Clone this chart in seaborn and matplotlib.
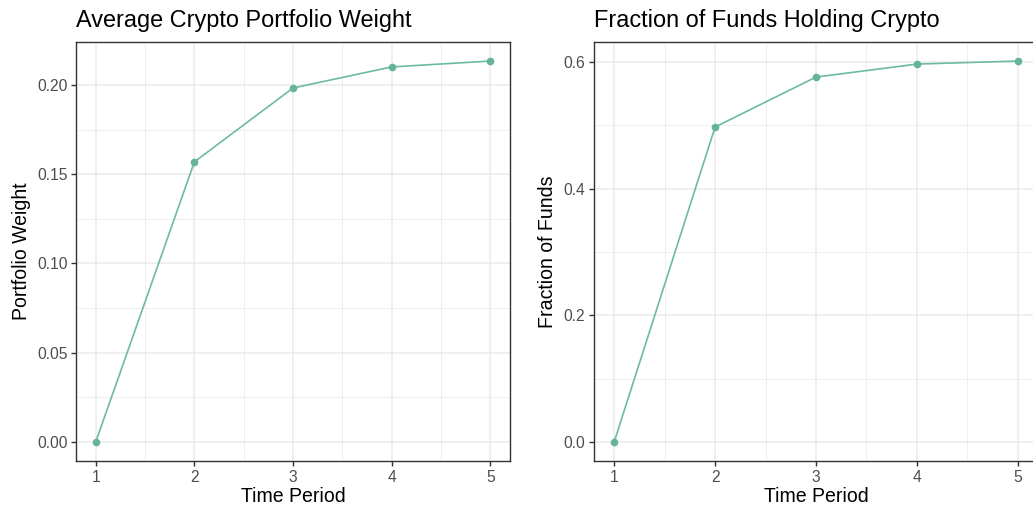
import matplotlib
matplotlib.use("Agg")
import matplotlib.pyplot as plt
import seaborn as sns
import pandas as pd
import numpy as np

# Data
periods = [1, 2, 3, 4, 5]
avg_weight = [0.0, 0.1569, 0.1983, 0.2101, 0.2134]
frac_holding = [0.0, 0.4974, 0.5763, 0.5968, 0.6016]

weight_ticks = [0.00, 0.05, 0.10, 0.15, 0.20]
weight_labels = ["0.00", "0.05", "0.10", "0.15", "0.20"]
frac_ticks = [0.0, 0.2, 0.4, 0.6]
frac_labels = ["0.0", "0.2", "0.4", "0.6"]

sns.set_theme(style="white")
plt.rcParams["font.family"] = ["Liberation Sans", "DejaVu Sans"]

W, H = 1033, 513
fig = plt.figure(figsize=(W / 100, H / 100), dpi=100)

LINE_COLOR = "#6cbaa2"
GRID = "#ebebeb"
DARK = "#333333"
S = 1.28  # text scale


def px_axes(x0, y0, x1, y1):
    return fig.add_axes([x0 / W, 1 - y1 / H, (x1 - x0) / W, (y1 - y0) / H])


def style_panel(ax, title, ylabel, yticks, ylabels, minor_y):
    ax.set_xticks(periods)
    ax.set_xticklabels([str(p) for p in periods])
    ax.set_xticks([1.5, 2.5, 3.5, 4.5], minor=True)
    ax.set_yticks(yticks)
    ax.set_yticklabels(ylabels)
    ax.set_yticks(minor_y, minor=True)
    ax.grid(True, which="major", color=GRID, linewidth=1.1)
    ax.grid(True, which="minor", color=GRID, linewidth=0.55)
    ax.set_axisbelow(True)
    for sp in ax.spines.values():
        sp.set_color(DARK)
        sp.set_linewidth(1.0)
    ax.tick_params(axis="both", which="major", length=3.6, width=1.0, color=DARK,
                   labelsize=8.8 * S, labelcolor="#4d4d4d", pad=2.6, bottom=True, left=True)
    ax.tick_params(axis="both", which="minor", length=0)
    ax.set_xlabel("Time Period", fontsize=11 * S, color="black", labelpad=1.5)
    ax.set_ylabel(ylabel, fontsize=11 * S, color="black", labelpad=4.5)
    ax.set_title(title, fontsize=13.2 * S, color="black", loc="left", pad=10.5)


df_w = pd.DataFrame({"period": periods, "value": avg_weight})
df_f = pd.DataFrame({"period": periods, "value": frac_holding})

ax1 = px_axes(76, 42, 510, 461)
sns.lineplot(data=df_w, x="period", y="value", ax=ax1, color=LINE_COLOR, linewidth=1.2,
             marker="o", markersize=5.5, markeredgewidth=0, markerfacecolor="#66b39b")
ax1.set_xlim(0.8, 5.2)
rng = max(avg_weight) - min(avg_weight)
ax1.set_ylim(min(avg_weight) - 0.05 * rng, max(avg_weight) + 0.05 * rng)
style_panel(ax1, "Average Crypto Portfolio Weight", "Portfolio Weight",
            weight_ticks, weight_labels, [0.025, 0.075, 0.125, 0.175])

ax2 = px_axes(594, 42, 1038, 461)
sns.lineplot(data=df_f, x="period", y="value", ax=ax2, color=LINE_COLOR, linewidth=1.2,
             marker="o", markersize=5.5, markeredgewidth=0, markerfacecolor="#66b39b")
ax2.set_xlim(0.8, 5.2)
rng = max(frac_holding) - min(frac_holding)
ax2.set_ylim(min(frac_holding) - 0.05 * rng, max(frac_holding) + 0.05 * rng)
style_panel(ax2, "Fraction of Funds Holding Crypto", "Fraction of Funds",
            frac_ticks, frac_labels, [0.1, 0.3, 0.5])

fig.savefig("out.png", dpi=100)
